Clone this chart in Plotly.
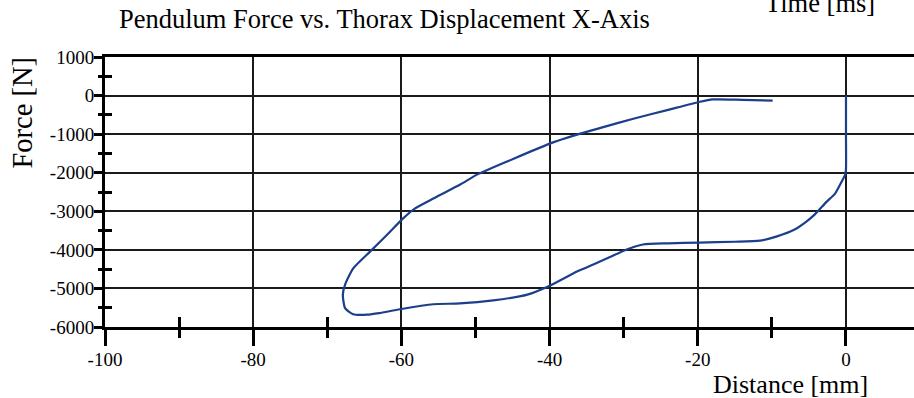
import plotly.graph_objects as go

# Hysteresis loop: pendulum force vs thorax displacement
distance_mm = [0, 0, 0, -0.1, -0.5, -1.5, -2.6, -4.2, -5.3, -7.0, -9.3, -11.6, -15.0, -19.8,
               -24.0, -27.4, -29.6, -32.0, -34.1, -36.3, -40.2, -43.0, -47.6, -52.1, -55.7,
               -60.2, -63.0, -64.6, -66.5, -67.6, -67.9, -67.6, -66.5, -64.2, -61.9, -59.8,
               -58.2, -55.7, -52.0, -49.8, -45.0, -39.9, -37.6, -33.0, -28.7, -24.0, -19.7,
               -18.0, -14.0, -9.9]
force_n = [0, -1000, -1900, -2050, -2200, -2550, -2750, -3080, -3260, -3480, -3650, -3760,
           -3790, -3810, -3830, -3860, -3990, -4200, -4380, -4560, -4950, -5160, -5310, -5390,
           -5410, -5540, -5640, -5680, -5670, -5510, -5160, -4900, -4480, -4040, -3600, -3190,
           -2930, -2670, -2300, -2050, -1650, -1240, -1090, -830, -600, -370, -160,
           -100, -110, -130]

x_tick_vals = [-100, -80, -60, -40, -20, 0]
x_tick_text = ["-100", "-80", "-60", "-40", "-20", "0"]
x_minor_vals = [-90, -70, -50, -30, -10]
y_tick_vals = [1000, 0, -1000, -2000, -3000, -4000, -5000, -6000]
y_tick_text = ["1000", "0", "-1000", "-2000", "-3000", "-4000", "-5000", "-6000"]
y_minor_vals = [500, -500, -1500, -2500, -3500, -4500, -5500]

title_text = "Pendulum Force vs. Thorax Displacement X-Axis"
x_title = "Distance [mm]"
y_title = "Force [N]"
top_text = "Time [ms]"

FONT = "Liberation Serif"
X_RANGE = [-100, 9.18]
Y_RANGE = [-6000, 1000]

fig = go.Figure()
fig.add_trace(go.Scatter(x=distance_mm, y=force_n, mode="lines",
                         line=dict(color="#1c3f8c", width=2.2, shape="spline", smoothing=0.6),
                         hoverinfo="x+y", showlegend=False))
# carrier traces for the overlay axes that draw the crossing tick marks
fig.add_trace(go.Scatter(x=[None], y=[None], xaxis="x2", yaxis="y2",
                         showlegend=False, hoverinfo="skip"))
fig.add_trace(go.Scatter(x=[None], y=[None], xaxis="x3", yaxis="y3",
                         showlegend=False, hoverinfo="skip"))

fig.update_layout(
    width=914, height=398,
    margin=dict(l=105, r=0, t=57, b=71),
    paper_bgcolor="white", plot_bgcolor="white",
    font=dict(family=FONT, color="black", size=19),
    xaxis=dict(range=X_RANGE, tickvals=x_tick_vals, ticktext=x_tick_text,
               showgrid=True, gridcolor="#1a1a1a", gridwidth=1.5,
               zeroline=False, showline=True, linecolor="black", linewidth=3, mirror=True,
               ticks="outside", ticklen=16, tickwidth=2.5, tickcolor="black",
               ticklabelstandoff=-3,
               tickfont=dict(family=FONT, size=19), fixedrange=True),
    xaxis2=dict(range=X_RANGE, overlaying="x", anchor="y", side="bottom",
                tickvals=x_minor_vals, showticklabels=False, showgrid=False, zeroline=False,
                ticks="outside", ticklen=10, tickwidth=2.5, tickcolor="black", fixedrange=True),
    xaxis3=dict(range=X_RANGE, overlaying="x", anchor="y", side="bottom",
                tickvals=x_minor_vals, showticklabels=False, showgrid=False,
                zeroline=False, ticks="inside", ticklen=10, tickwidth=2.5,
                tickcolor="black", fixedrange=True),
    yaxis=dict(range=Y_RANGE, tickvals=y_tick_vals, ticktext=y_tick_text,
               showgrid=True, gridcolor="#1a1a1a", gridwidth=1.5,
               zeroline=False, showline=True, linecolor="black", linewidth=3,
               ticks="outside", ticklen=8, tickwidth=2.5, tickcolor="black",
               ticklabelstandoff=-4,
               tickfont=dict(family=FONT, size=19), fixedrange=True),
    yaxis2=dict(range=Y_RANGE, overlaying="y", anchor="x", side="left",
                tickvals=y_minor_vals, showticklabels=False, showgrid=False, zeroline=False,
                ticks="inside", ticklen=7, tickwidth=2.5, tickcolor="black", fixedrange=True),
    yaxis3=dict(range=Y_RANGE, overlaying="y", anchor="x", side="left",
                tickvals=y_minor_vals, showticklabels=False, showgrid=False,
                zeroline=False, ticks="outside", ticklen=6, tickwidth=2.5,
                tickcolor="black", fixedrange=True),
)

fig.add_annotation(text=title_text, xref="paper", yref="paper", x=0.015, y=1.14,
                   xanchor="left", yanchor="middle", showarrow=False,
                   font=dict(family=FONT, size=26.5, color="black"))
fig.add_annotation(text=top_text, xref="paper", yref="paper", x=0.884, y=1.2,
                   xanchor="center", yanchor="middle", showarrow=False,
                   font=dict(family=FONT, size=26.5, color="black"))
fig.add_annotation(text=x_title, xref="paper", yref="paper", x=0.847, y=-0.212,
                   xanchor="center", yanchor="middle", showarrow=False,
                   font=dict(family=FONT, size=26, color="black"))
fig.add_annotation(text=y_title, xref="paper", yref="paper", x=-0.102, y=0.796,
                   xanchor="center", yanchor="middle", showarrow=False, textangle=-90,
                   font=dict(family=FONT, size=28.5, color="black"))

# the page's default 8px body margin would shift the figure; remove it
fig.write_html("out.html", config={"displayModeBar": False},
               post_script="document.body.style.margin='0';")
